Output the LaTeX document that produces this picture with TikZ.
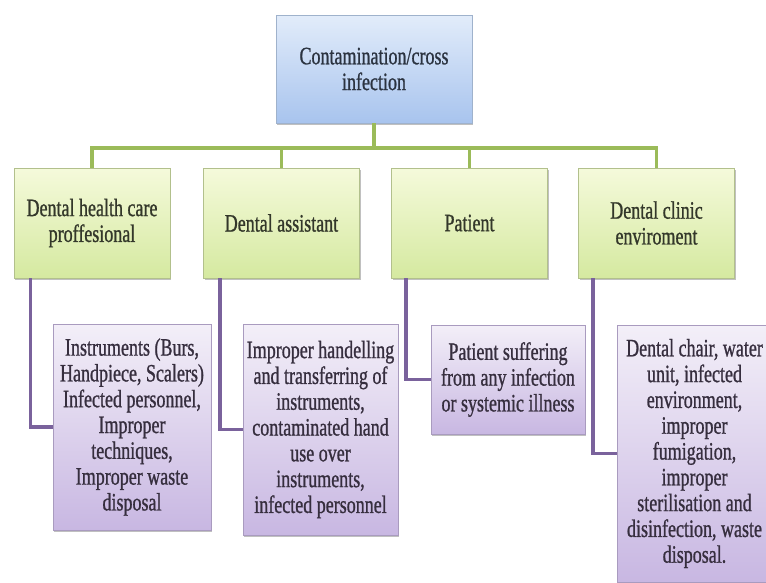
\documentclass[tikz,border=0pt]{standalone}
\usepackage{fontspec}
\setmainfont{Liberation Serif}[FakeStretch=0.72, FakeBold=0.9]
\usetikzlibrary{shadows}
\definecolor{bluetop}{HTML}{E2ECFA}
\definecolor{bluebot}{HTML}{A8C4EE}
\definecolor{blueedge}{HTML}{9FB2CC}
\definecolor{greentop}{HTML}{F5FADB}
\definecolor{greenbot}{HTML}{D5E9A0}
\definecolor{greenedge}{HTML}{B2C08C}
\definecolor{purptop}{HTML}{F3EFF8}
\definecolor{purpbot}{HTML}{C8B7E2}
\definecolor{purpedge}{HTML}{A99BBF}
\definecolor{greenline}{HTML}{9BBB59}
\definecolor{purpline}{HTML}{7A629C}
\definecolor{txtblue}{HTML}{2B3340}
\definecolor{txtgreen}{HTML}{33372A}
\definecolor{txtpurp}{HTML}{362E3E}
\tikzset{
  basebox/.style={draw, line width=0.9pt, inner sep=0pt, align=center,
    font=\fontsize{25}{25.8}\selectfont,
    drop shadow={shadow xshift=1.2pt, shadow yshift=-2.2pt, opacity=0.35, fill=black!70}},
  topbox/.style={basebox, draw=blueedge, top color=bluetop, bottom color=bluebot,
    text=txtblue, minimum width=196pt, minimum height=108pt},
  catbox/.style={basebox, draw=greenedge, top color=greentop, bottom color=greenbot,
    text=txtgreen, minimum width=156pt, minimum height=110pt},
  detbox/.style={basebox, draw=purpedge, top color=purptop, bottom color=purpbot,
    text=txtpurp},
  gline/.style={draw=greenline, line width=3.2pt},
  pline/.style={draw=purpline, line width=3.2pt},
}
\begin{document}
\begin{tikzpicture}[x=1pt, y=-1pt]
\useasboundingbox (0,0) rectangle (766,582);
\fill[white] (0,0) rectangle (766,582);
\clip (0,0) rectangle (766,582);

\node[topbox] (top) at (374,69) {Contamination/cross\\infection};

\node[catbox] (b1) at (92,223) {Dental health care\\proffesional};
\node[catbox] (b2) at (281.5,223) {Dental assistant};
\node[catbox] (b3) at (469.5,223) {Patient};
\node[catbox] (b4) at (656.5,223) {Dental clinic\\enviroment};

\node[detbox, minimum width=158pt, minimum height=206pt] (p1) at (132,427)
  {Instruments (Burs,\\Handpiece, Scalers)\\Infected personnel,\\Improper\\techniques,\\Improper waste\\disposal};
\node[detbox, minimum width=155pt, minimum height=211pt] (p2) at (320.5,429.5)
  {Improper handelling\\and transferring of\\instruments,\\contaminated hand\\use over\\instruments,\\infected personnel};
\node[detbox, minimum width=154pt, minimum height=109pt] (p3) at (508,379.5)
  {Patient suffering\\from any infection\\or systemic illness};
\node[detbox, minimum width=155pt, minimum height=257pt] (p4) at (694.5,453.5)
  {Dental chair, water\\unit, infected\\environment,\\improper\\fumigation,\\improper\\sterilisation and\\disinfection, waste\\disposal.};

\coordinate (bus) at (374,148);
\path[gline] (top.south) -- (bus);
\path[gline] (b1.north) |- (bus) -| (b4.north);
\path[gline] (b2.north) -- (b2.north |- bus);
\path[gline] (b3.north) -- (b3.north |- bus);

\path[pline] ([xshift=17pt]b1.south west) |- (p1.west);
\path[pline] ([xshift=17pt]b2.south west) |- (p2.west);
\path[pline] ([xshift=15pt]b3.south west) |- (p3.west);
\path[pline] ([xshift=15pt]b4.south west) |- (p4.west);
\end{tikzpicture}
\end{document}
